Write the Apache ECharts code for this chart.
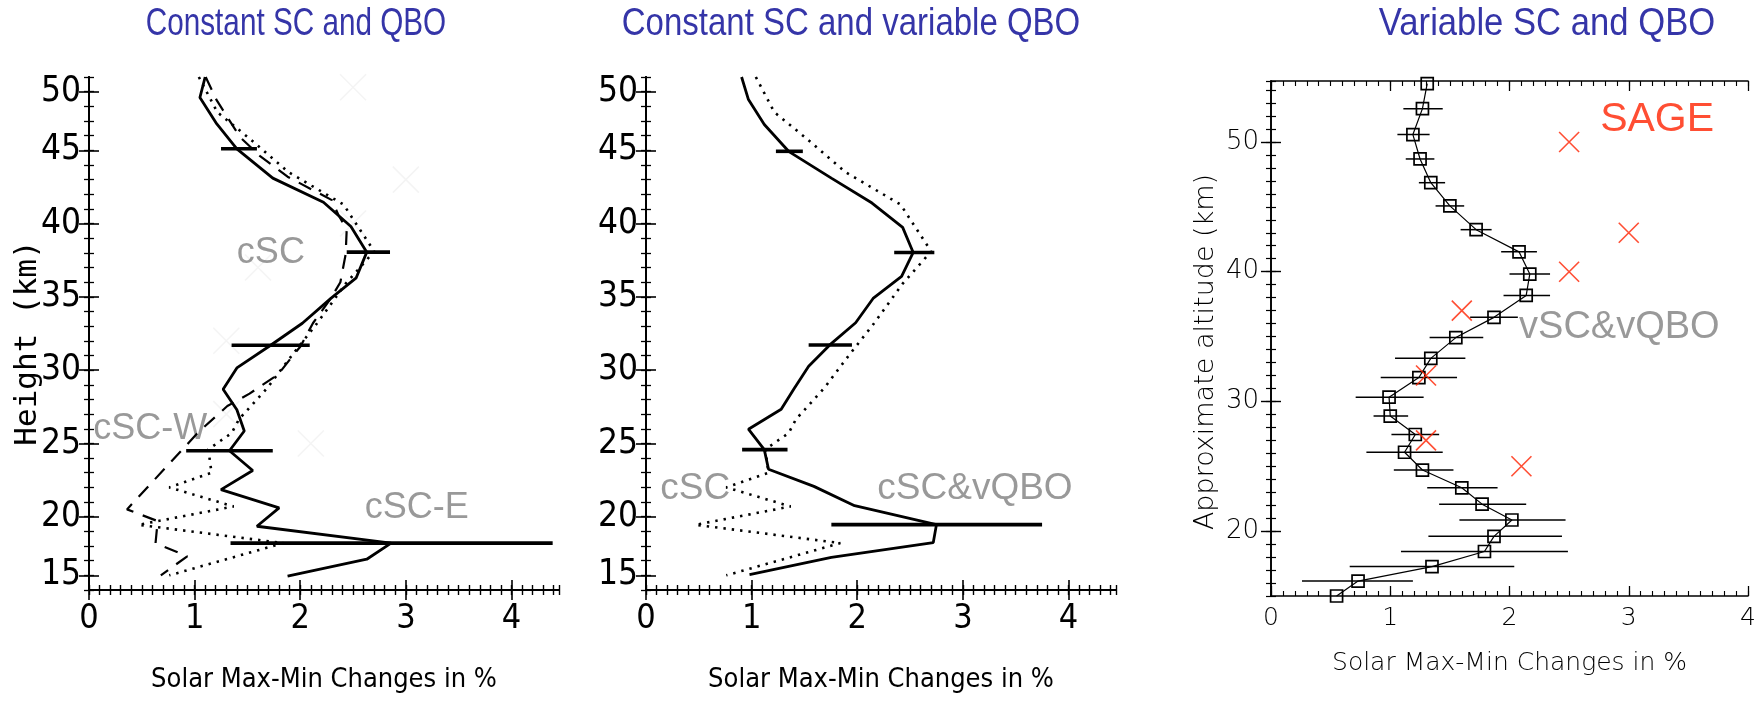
<!DOCTYPE html>
<html><head><meta charset="utf-8">
<script src="https://cdn.jsdelivr.net/npm/echarts@6/dist/echarts.min.js"></script>
<style>html,body{margin:0;padding:0;background:#fff}#c{width:1764px;height:720px}</style>
</head><body><div id="c"></div>
<script>
// ---------- Panels 1 & 2: vertical axis in plot levels (minor-tick units), labelled in km ----------
const levelTickPos   = [1, 5, 10, 15, 20, 25, 30, 34];
const levelTickLabel = ['15','20','25','30','35','40','45','50'];
const xTickValues    = [0, 1, 2, 3, 4];

// cSC (dotted) - same curve in panels 1 and 2
const cscLev = [35.0,32.6,30.8,28.5,26.3,23.1,20.9,18.2,16.0,13.8,11.65,10.7,9.6,8.0,7.0,5.7,4.45,3.2,1.0];
const cscVal = [1.04,1.215,1.52,1.89,2.41,2.70,2.43,2.16,1.92,1.69,1.42,1.35,1.13,1.16,0.76,1.37,0.47,1.84,0.76];

// cSC-E (solid, panel 1)
const cscELev = [35.0,33.6,31.8,30.1,28.1,26.45,24.8,23.05,21.3,19.9,18.2,16.7,15.15,13.7,12.3,10.85,9.5,8.15,6.85,5.6,4.35,3.2,2.1,0.95];
const cscEVal = [1.10,1.05,1.21,1.40,1.74,2.22,2.48,2.63,2.53,2.29,2.02,1.72,1.40,1.27,1.40,1.47,1.33,1.55,1.25,1.80,1.59,2.86,2.63,1.88];
const cscEErrLev = [30.1, 23.05, 16.7, 9.5, 3.2];
const cscEErrLo  = [1.25, 2.44, 1.35, 0.92, 1.34];
const cscEErrHi  = [1.59, 2.85, 2.09, 1.74, 4.39];

// cSC-W (dashed, panel 1)
const cscWLev = [35.0,33.4,30.9,29.6,28.2,26.6,25.6,24.6,22.9,21.0,19.9,18.2,16.6,15.9,14.7,13.4,12.55,10.8,5.5,4.7,3.2,2.3,1.0];
const cscWVal = [1.105,1.21,1.43,1.62,1.88,2.30,2.36,2.44,2.43,2.38,2.29,2.12,2.0,1.92,1.79,1.52,1.31,1.04,0.36,0.65,0.63,0.93,0.68];

// faint ghost crosses visible in panel 1
const ghostLev = [34.3, 28, 25, 22, 17, 12, 10];
const ghostVal = [2.5, 3.0, 2.5, 1.6, 1.3, 1.3, 2.1];

// cSC&vQBO (solid, panel 2)
const vqboLev = [35.0,33.46,31.76,29.93,28.1,26.4,24.74,23.03,21.4,19.89,18.23,16.72,15.26,13.72,12.33,10.97,9.58,8.24,7.07,5.75,4.46,3.24,2.22,1.05];
const vqboVal = [0.905,0.97,1.12,1.35,1.755,2.14,2.43,2.53,2.42,2.15,1.985,1.74,1.54,1.40,1.28,0.97,1.12,1.16,1.59,1.975,2.75,2.72,1.755,0.98];
const vqboErrLev = [29.93, 23.03, 16.72, 9.58, 4.46];
const vqboErrLo  = [1.23, 2.35, 1.54, 0.91, 1.755];
const vqboErrHi  = [1.485, 2.73, 1.95, 1.34, 3.75];

// ---------- Panel 3: vSC&vQBO (km) and SAGE ----------
const p3TickValues = [20, 30, 40, 50];
const vscAlt = [54.5,52.57,50.57,48.69,46.86,45.07,43.24,41.53,39.82,38.17,36.48,34.92,33.32,31.84,30.33,28.87,27.45,26.08,24.71,23.34,22.08,20.86,19.6,18.43,17.27,16.15,15.0];
const vscVal = [1.31,1.27,1.19,1.25,1.34,1.50,1.72,2.08,2.17,2.14,1.87,1.55,1.34,1.24,0.99,1.00,1.21,1.12,1.27,1.60,1.77,2.02,1.87,1.79,1.35,0.73,0.55];
const vscLo  = [1.31,1.11,1.06,1.13,1.24,1.38,1.59,1.93,2.00,1.95,1.67,1.33,1.04,0.92,0.71,0.86,1.01,0.80,1.03,1.31,1.41,1.58,1.32,1.09,0.66,0.26,0.55];
const vscHi  = [1.31,1.44,1.33,1.37,1.46,1.62,1.85,2.23,2.34,2.34,2.07,1.78,1.63,1.56,1.28,1.15,1.41,1.44,1.53,1.90,2.14,2.47,2.44,2.49,2.04,1.19,0.55];
const sageAlt = [50, 43, 40, 37, 32, 27, 25];
const sageVal = [2.5, 3.0, 2.5, 1.6, 1.3, 1.3, 2.1];

// ---------- helpers ----------
const zip = (xs, ys) => xs.map((x, i) => [x, ys[i]]);
const errData = (lev, lo, hi) => lev.map((l, i) => [lo[i], hi[i], l]);

const NARROW = "'Liberation Sans Narrow','DejaVu Sans Condensed','Arial Narrow',sans-serif";
const THIN = "'DejaVu Sans',sans-serif";
const ARIAL = "'Liberation Sans',Arial,sans-serif";
const RED = '#ff2200';
const GREY = '#7f7f7f';

const grids = [
  {left: 89,  top: 77, width: 470, height: 513},
  {left: 646, top: 77, width: 470, height: 513},
  {left: 1271, top: 81, width: 477, height: 515}
];

function xAxes(g, max, big) {
  const lw = big ? 2 : 1.6;
  const lab = big
    ? {customValues: xTickValues, fontFamily: NARROW, fontSize: 34, color: '#000', margin: 12}
    : {customValues: xTickValues, fontFamily: THIN, fontWeight: 200, fontSize: 25, color: '#000', margin: 10};
  const base = {gridIndex: g, type: 'value', min: 0, max: max, splitLine: {show: false}};
  return [
    Object.assign({}, base, {position: 'bottom',
      axisLine: {lineStyle: {color: '#000', width: lw}},
      axisTick: {inside: true, length: 10, customValues: xTickValues, lineStyle: {color: '#000', width: lw * 0.8}},
      axisLabel: lab,
      name: 'Solar Max-Min Changes in %', nameLocation: 'middle', nameMoveOverlap: false,
      nameGap: big ? 76 : 55,
      nameTextStyle: big ? {fontFamily: NARROW, fontSize: 27, color: '#000'} : {fontFamily: THIN, fontWeight: 200, fontSize: 25, color: '#000'}
    }),
    Object.assign({}, base, {position: 'bottom', interval: 0.1,
      axisLine: {show: false}, axisLabel: {show: false},
      axisTick: {inside: true, length: 5, lineStyle: {color: '#000', width: lw * 0.7}}}),
    Object.assign({}, base, {position: 'top',
      axisLine: {lineStyle: {color: '#000', width: lw}}, axisLabel: {show: false},
      axisTick: {inside: true, length: 10, customValues: xTickValues, lineStyle: {color: '#000', width: lw * 0.8}}}),
    Object.assign({}, base, {position: 'top', interval: 0.1,
      axisLine: {show: false}, axisLabel: {show: false},
      axisTick: {inside: true, length: 5, lineStyle: {color: '#000', width: lw * 0.7}}})
  ];
}

function yAxesLevel(g) {
  const base = {gridIndex: g, type: 'value', min: 0, max: 35, splitLine: {show: false}};
  const fmt = v => { const i = levelTickPos.indexOf(Math.round(v)); return i >= 0 ? levelTickLabel[i] : ''; };
  return [
    Object.assign({}, base, {position: 'left',
      axisLine: {lineStyle: {color: '#000', width: 2}},
      axisTick: {inside: true, length: 10, customValues: levelTickPos, lineStyle: {color: '#000', width: 1.6}},
      axisLabel: {customValues: levelTickPos, formatter: fmt, fontFamily: NARROW, fontSize: 35, color: '#000', margin: 8}}),
    Object.assign({}, base, {position: 'left', interval: 1, axisLine: {show: false}, axisLabel: {show: false},
      axisTick: {inside: true, length: 5, lineStyle: {color: '#000', width: 1.3}}}),
    Object.assign({}, base, {position: 'right', axisLine: {lineStyle: {color: '#000', width: 2}}, axisLabel: {show: false},
      axisTick: {inside: true, length: 10, customValues: levelTickPos, lineStyle: {color: '#000', width: 1.6}}}),
    Object.assign({}, base, {position: 'right', interval: 1, axisLine: {show: false}, axisLabel: {show: false},
      axisTick: {inside: true, length: 5, lineStyle: {color: '#000', width: 1.3}}})
  ];
}

function yAxesKm(g) {
  const base = {gridIndex: g, type: 'value', min: 15, max: 54.7, splitLine: {show: false}};
  return [
    Object.assign({}, base, {position: 'left',
      axisLine: {lineStyle: {color: '#000', width: 1.6}},
      axisTick: {inside: true, length: 10, customValues: p3TickValues, lineStyle: {color: '#000', width: 1.4}},
      axisLabel: {customValues: p3TickValues, fontFamily: THIN, fontWeight: 200, fontSize: 26, color: '#000', margin: 12}}),
    Object.assign({}, base, {position: 'left', interval: 1, axisLine: {show: false}, axisLabel: {show: false},
      axisTick: {inside: true, length: 5, lineStyle: {color: '#000', width: 1.2}}}),
    Object.assign({}, base, {position: 'right', axisLine: {lineStyle: {color: '#000', width: 1.6}}, axisLabel: {show: false},
      axisTick: {inside: true, length: 10, customValues: p3TickValues, lineStyle: {color: '#000', width: 1.4}}}),
    Object.assign({}, base, {position: 'right', interval: 1, axisLine: {show: false}, axisLabel: {show: false},
      axisTick: {inside: true, length: 5, lineStyle: {color: '#000', width: 1.2}}})
  ];
}

const xAxis = [].concat(xAxes(0, 4.45, true), xAxes(1, 4.45, true), xAxes(2, 4, false));
const yAxis = [].concat(yAxesLevel(0), yAxesLevel(1), yAxesKm(2));
// main axis indices per panel: x = 0,4,8 ; y = 0,4,8
const XI = [0, 4, 8], YI = [0, 4, 8];

function lineSeries(p, data, type, width) {
  return {type: 'line', xAxisIndex: XI[p], yAxisIndex: YI[p], data: data, symbol: 'none',
    silent: true, z: 3, lineStyle: {color: '#000', width: width, type: type, cap: 'butt'}};
}
function errSeries(p, data, width) {
  return {type: 'custom', xAxisIndex: XI[p], yAxisIndex: YI[p], data: data, silent: true, z: 4,
    encode: {x: [0, 1], y: 2},
    renderItem: (params, api) => {
      const a = api.coord([api.value(0), api.value(2)]);
      const b = api.coord([api.value(1), api.value(2)]);
      return {type: 'line', shape: {x1: a[0], y1: a[1], x2: b[0], y2: b[1]},
        style: {stroke: '#000', lineWidth: width}};
    }};
}
function textSeries(p, items, color, size) {
  return {type: 'scatter', xAxisIndex: XI[p], yAxisIndex: YI[p], symbolSize: 0, silent: true, z: 2,
    data: items.map(t => ({name: t[0], value: [t[1], t[2]]})),
    label: {show: true, position: 'right', distance: 0, formatter: '{b}',
      fontFamily: ARIAL, fontSize: size, color: color}};
}
const crossPath = 'path://M0 0L10 10M10 0L0 10';
function crossSeries(p, data, color, size, w, z) {
  return {type: 'scatter', xAxisIndex: XI[p], yAxisIndex: YI[p], data: data, silent: true, z: z,
    symbol: crossPath, symbolSize: size,
    itemStyle: {color: 'none', borderColor: color, borderWidth: w}};
}

const dotted = [2.4, 6];
const dashed = [14, 10];

const series = [
  // panel 1
  crossSeries(0, zip(ghostVal, ghostLev), '#f1f1f1', 26, 1.5, 1),
  lineSeries(0, zip(cscVal, cscLev), dotted, 2.6),
  lineSeries(0, zip(cscWVal, cscWLev), dashed, 2.2),
  lineSeries(0, zip(cscEVal, cscELev), 'solid', 2.8),
  errSeries(0, errData(cscEErrLev, cscEErrLo, cscEErrHi), 3.6),
  textSeries(0, [['cSC', 1.40, 23.0], ['cSC-W', 0.04, 11.0], ['cSC-E', 2.61, 5.6]], GREY, 36),
  // panel 2
  lineSeries(1, zip(cscVal, cscLev), dotted, 2.6),
  lineSeries(1, zip(vqboVal, vqboLev), 'solid', 2.8),
  errSeries(1, errData(vqboErrLev, vqboErrLo, vqboErrHi), 3.6),
  textSeries(1, [['cSC', 0.135, 6.9], ['cSC&vQBO', 2.19, 6.9]], GREY, 37),
  // panel 3
  errSeries(2, errData(vscAlt, vscLo, vscHi), 1.5),
  {type: 'line', xAxisIndex: XI[2], yAxisIndex: YI[2], data: zip(vscVal, vscAlt), silent: true, z: 5,
    symbol: 'rect', symbolSize: 12, showSymbol: true, clip: false,
    lineStyle: {color: '#000', width: 1.2},
    itemStyle: {color: 'rgba(0,0,0,0)', borderColor: '#000', borderWidth: 1.7}},
  crossSeries(2, zip(sageVal, sageAlt), RED, 20, 1.6, 6),
  textSeries(2, [['SAGE', 2.76, 51.7]], RED, 41),
  textSeries(2, [['vSC&vQBO', 2.08, 35.7]], GREY, 38)
];

const titleFont = "33px 'Liberation Sans', Arial, sans-serif";
function titleText(text, x, sx) {
  return {type: 'text', x: x, y: 25, scaleX: sx, scaleY: 1.15,
    style: {text: text, font: titleFont, fill: '#3535a8', textAlign: 'center', textVerticalAlign: 'middle'}};
}
function vText(text, x, y, font) {
  return {type: 'text', x: x, y: y, rotation: Math.PI / 2,
    style: {text: text, font: font, fill: '#000', textAlign: 'center', textVerticalAlign: 'middle'}};
}
const graphic = [
  titleText('Constant SC and QBO', 296, 0.9),
  titleText('Constant SC and variable QBO', 851, 1.0),
  titleText('Variable SC and QBO', 1547, 1.05),
  vText('Height (km)', 28, 343, "31px 'DejaVu Sans Mono', monospace"),
  vText('Approximate altitude (km)', 1206, 352, "200 27px 'DejaVu Sans', sans-serif")
];

const chart = echarts.init(document.getElementById('c'), null, {renderer: 'canvas', width: 1764, height: 720});
chart.setOption({animation: false, backgroundColor: '#fff', grid: grids, xAxis: xAxis, yAxis: yAxis, series: series, graphic: graphic});
</script></body></html>
